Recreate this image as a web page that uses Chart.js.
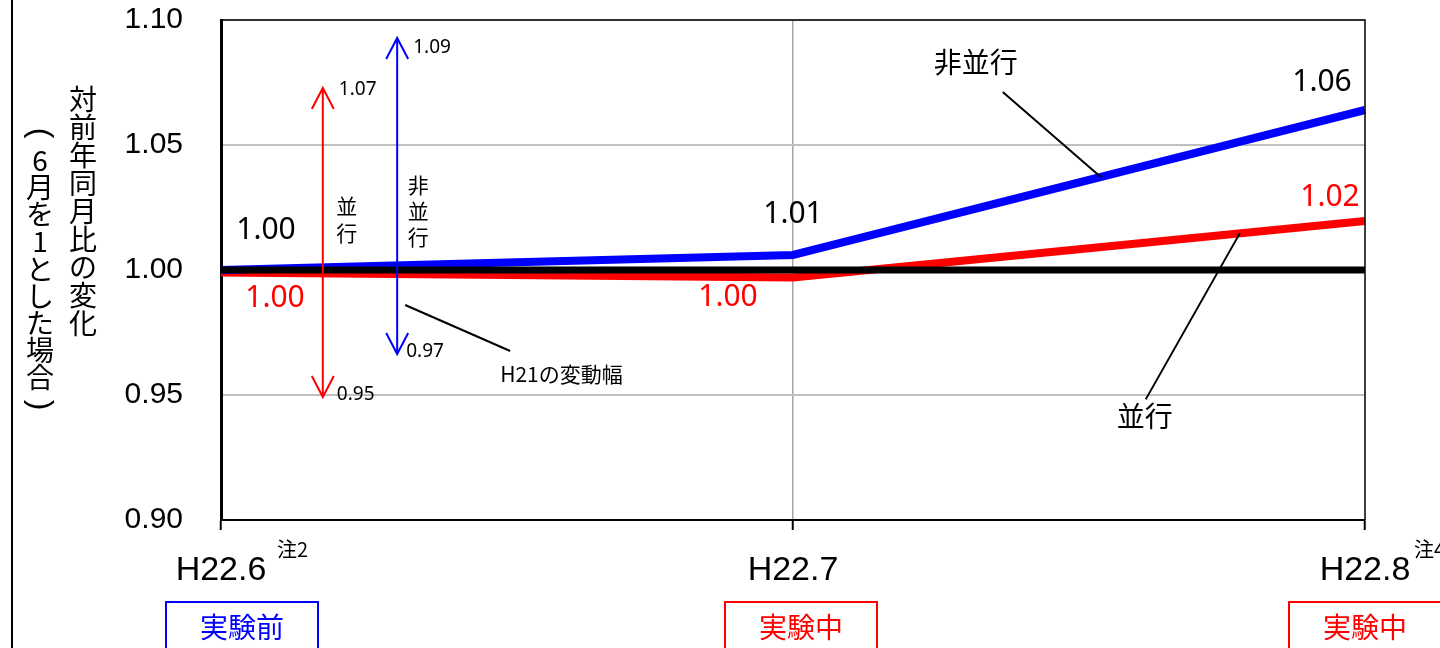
<!DOCTYPE html>
<html>
<head>
<meta charset="utf-8">
<script src="https://cdn.jsdelivr.net/npm/chart.js@4"></script>
<style>
  body { margin: 0; background: #fff; }
  #wrap { width: 1440px; height: 648px; }
</style>
</head>
<body>
<div id="wrap"><canvas id="ratio"></canvas></div>
<script>
// months on the x axis
const months = ['H22.6', 'H22.7', 'H22.8'];
// 非並行 / 並行 / baseline (6月 = 1)
const nonParallel = [1.000, 1.006, 1.064];
const parallel = [0.999, 0.997, 1.0196];
const baseline = [1.00, 1.00, 1.00];
// y tick labels
const yTicks = [0.90, 0.95, 1.00, 1.05, 1.10];
// H21 range (low, high)
const rangeParallel = [0.95, 1.07];
const rangeNonParallel = [0.97, 1.09];
// boxes under the months and footnote marks
const phases = ['実験前', '実験中', '実験中'];
const notes = ['注2', '', '注4'];

const JP = '"Noto Sans CJK JP", "Noto Sans", sans-serif';
const NUM = '"Noto Sans", sans-serif';

// value on a series at fractional index t
function valAt(series, t) {
    const i = Math.min(Math.floor(t), series.length - 2);
    const f = t - i;
    return series[i] + (series[i + 1] - series[i]) * f;
}

function arrow(ctx, x, yTop, yBot, color) {
    ctx.save();
    ctx.strokeStyle = color;
    ctx.lineWidth = 2;
    ctx.beginPath();
    ctx.moveTo(x, yTop); ctx.lineTo(x, yBot);
    ctx.moveTo(x - 11, yTop + 21); ctx.lineTo(x, yTop); ctx.lineTo(x + 11, yTop + 21);
    ctx.moveTo(x - 11, yBot - 21); ctx.lineTo(x, yBot); ctx.lineTo(x + 11, yBot - 21);
    ctx.stroke();
    ctx.restore();
}

// stacked characters; round brackets are turned for vertical writing
function vtext(ctx, chars, x, y0, step) {
    chars.forEach((c, i) => {
        const yy = y0 + i * step;
        if (c === '(' || c === ')') {
            ctx.save();
            ctx.font = '32px "Liberation Sans", sans-serif';
            ctx.translate(x, yy);
            ctx.rotate(Math.PI / 2);
            ctx.fillText(c, 0, 0);
            ctx.restore();
        } else {
            ctx.fillText(c, x, yy);
        }
    });
}

const overlay = {
    id: 'overlay',
    afterDatasetsDraw(chart) {
        const { ctx, chartArea: a, scales: { x, y } } = chart;
        ctx.save();
        // frame top and right
        ctx.strokeStyle = '#000';
        ctx.lineWidth = 1.5;
        ctx.beginPath();
        ctx.moveTo(a.left, a.top); ctx.lineTo(a.right, a.top); ctx.lineTo(a.right, a.bottom);
        ctx.stroke();

        // H21 range arrows
        const xr = x.getPixelForValue(0.178), xb = x.getPixelForValue(0.308);
        const r0 = y.getPixelForValue(rangeParallel[0]), r1 = y.getPixelForValue(rangeParallel[1]);
        const b0 = y.getPixelForValue(rangeNonParallel[0]), b1 = y.getPixelForValue(rangeNonParallel[1]);
        arrow(ctx, xr, r1 - 7, r0 + 2, '#FF0000');
        arrow(ctx, xb, b1 - 7, b0 + 9, '#0000FF');

        ctx.fillStyle = '#000';
        ctx.textBaseline = 'middle';
        ctx.textAlign = 'left';
        ctx.font = '19px ' + NUM;
        ctx.fillText(rangeParallel[1].toFixed(2), xr + 16, r1 - 5);
        ctx.fillText(rangeParallel[0].toFixed(2), xr + 14, r0);
        ctx.fillText(rangeNonParallel[1].toFixed(2), xb + 16, b1 + 3);
        ctx.fillText(rangeNonParallel[0].toFixed(2), xb + 9, b0 + 7);

        ctx.textAlign = 'center';
        ctx.font = '21px ' + JP;
        vtext(ctx, ['並', '行'], xr + 24, 206, 27);
        vtext(ctx, ['非', '並', '行'], xb + 21, 185, 26);

        // leader lines and labels
        ctx.lineWidth = 2;
        ctx.strokeStyle = '#000';
        const hx = xb + 8, hy = y.getPixelForValue(0.986);
        ctx.beginPath();
        ctx.moveTo(hx, hy); ctx.lineTo(hx + 105, hy + 46);
        ctx.stroke();
        ctx.textAlign = 'left';
        ctx.fillText('H21の変動幅', hx + 95, hy + 69);

        const tb = 1.538, tr = 1.781;
        const bx = x.getPixelForValue(tb), by = y.getPixelForValue(valAt(nonParallel, tb));
        const rx = x.getPixelForValue(tr), ry = y.getPixelForValue(valAt(parallel, tr));
        ctx.beginPath();
        ctx.moveTo(bx, by); ctx.lineTo(bx - 98, by - 85);
        ctx.moveTo(rx, ry); ctx.lineTo(rx - 94, ry + 166);
        ctx.stroke();
        ctx.textAlign = 'center';
        ctx.font = '28px ' + JP;
        ctx.fillText('非並行', bx - 125, by - 115);
        ctx.fillText('並行', rx - 95, ry + 183);

        // value labels
        ctx.font = '30px ' + NUM;
        const offBlue = [[45, -40], [0, -41], [-43, -28]];
        const offRed = [[54, 26], [-65, 20], [-35, -24]];
        nonParallel.forEach((v, i) => {
            ctx.fillStyle = '#000';
            ctx.fillText(v.toFixed(2), x.getPixelForValue(i) + offBlue[i][0], y.getPixelForValue(v) + offBlue[i][1]);
        });
        parallel.forEach((v, i) => {
            ctx.fillStyle = '#FF0000';
            ctx.fillText(v.toFixed(2), x.getPixelForValue(i) + offRed[i][0], y.getPixelForValue(v) + offRed[i][1]);
        });
        ctx.restore();
    },
    afterDraw(chart) {
        const { ctx, scales: { x } } = chart;
        ctx.save();
        // left page rule
        ctx.fillStyle = '#000';
        ctx.fillRect(11, 0, 2, 648);

        // y axis title, vertical
        ctx.textAlign = 'center';
        ctx.textBaseline = 'middle';
        ctx.font = '28px ' + JP;
        vtext(ctx, Array.from('対前年同月比の変化'), 83, 99, 28);
        vtext(ctx, Array.from('(6月を1とした場合)'), 40, 133, 27.2);

        // footnote marks and phase boxes
        ctx.font = '20px ' + JP;
        ctx.textAlign = 'left';
        const noteOff = [56, 0, 49];
        notes.forEach((n, i) => {
            if (n) ctx.fillText(n, x.getPixelForValue(i) + noteOff[i], 549);
        });
        const boxOff = [-55, -68, -76];
        ctx.font = '28px ' + JP;
        ctx.textAlign = 'center';
        ctx.lineWidth = 2;
        phases.forEach((p, i) => {
            const c = i === 0 ? '#0000FF' : '#FF0000';
            const bx = x.getPixelForValue(i) + boxOff[i];
            ctx.strokeStyle = c;
            ctx.fillStyle = c;
            ctx.strokeRect(bx, 602, 152, 60);
            ctx.fillText(p, bx + 76, 627);
        });
        ctx.restore();
    }
};

new Chart(document.getElementById('ratio'), {
    type: 'line',
    data: {
        labels: months,
        datasets: [
            {
                label: '基準',
                data: baseline,
                borderColor: '#000000',
                borderWidth: 7,
                pointRadius: 0
            },
            {
                label: '非並行',
                data: nonParallel,
                borderColor: '#0000FF',
                borderWidth: 8,
                pointRadius: 0
            },
            {
                label: '並行',
                data: parallel,
                borderColor: '#FF0000',
                borderWidth: 8,
                pointRadius: 0
            }
        ]
    },
    options: {
        responsive: true,
        maintainAspectRatio: false,
        animation: false,
        layout: { padding: { top: 20, right: 75, left: 0, bottom: 0 } },
        plugins: {
            legend: { display: false },
            tooltip: { enabled: false }
        },
        scales: {
            x: {
                type: 'category',
                offset: false,
                afterFit: (s) => { s.height = 128; s.paddingLeft = 0; s.paddingRight = 0; },
                border: { color: '#000', width: 2 },
                grid: {
                    color: (c) => c.index === 1 ? '#A6A6A6' : 'rgba(0,0,0,0)',
                    lineWidth: 1.5,
                    tickColor: '#000',
                    tickLength: 10,
                    tickWidth: 2
                },
                ticks: {
                    color: '#000',
                    padding: 20,
                    maxRotation: 0,
                    font: { family: '"Liberation Sans", Arial, sans-serif', size: 34 }
                }
            },
            y: {
                min: 0.9,
                max: 1.1,
                afterFit: (s) => { s.width = 221; s.paddingTop = 0; s.paddingBottom = 0; },
                afterBuildTicks: (s) => { s.ticks = yTicks.map(v => ({ value: v })); },
                border: { color: '#000', width: 3 },
                grid: { color: '#C0C0C0', lineWidth: 2, drawTicks: false },
                ticks: {
                    color: '#000',
                    padding: 38,
                    callback: (v) => Number(v).toFixed(2),
                    font: { family: '"Liberation Sans", Arial, sans-serif', size: 30 }
                }
            }
        }
    },
    plugins: [overlay]
});
</script>
</body>
</html>
